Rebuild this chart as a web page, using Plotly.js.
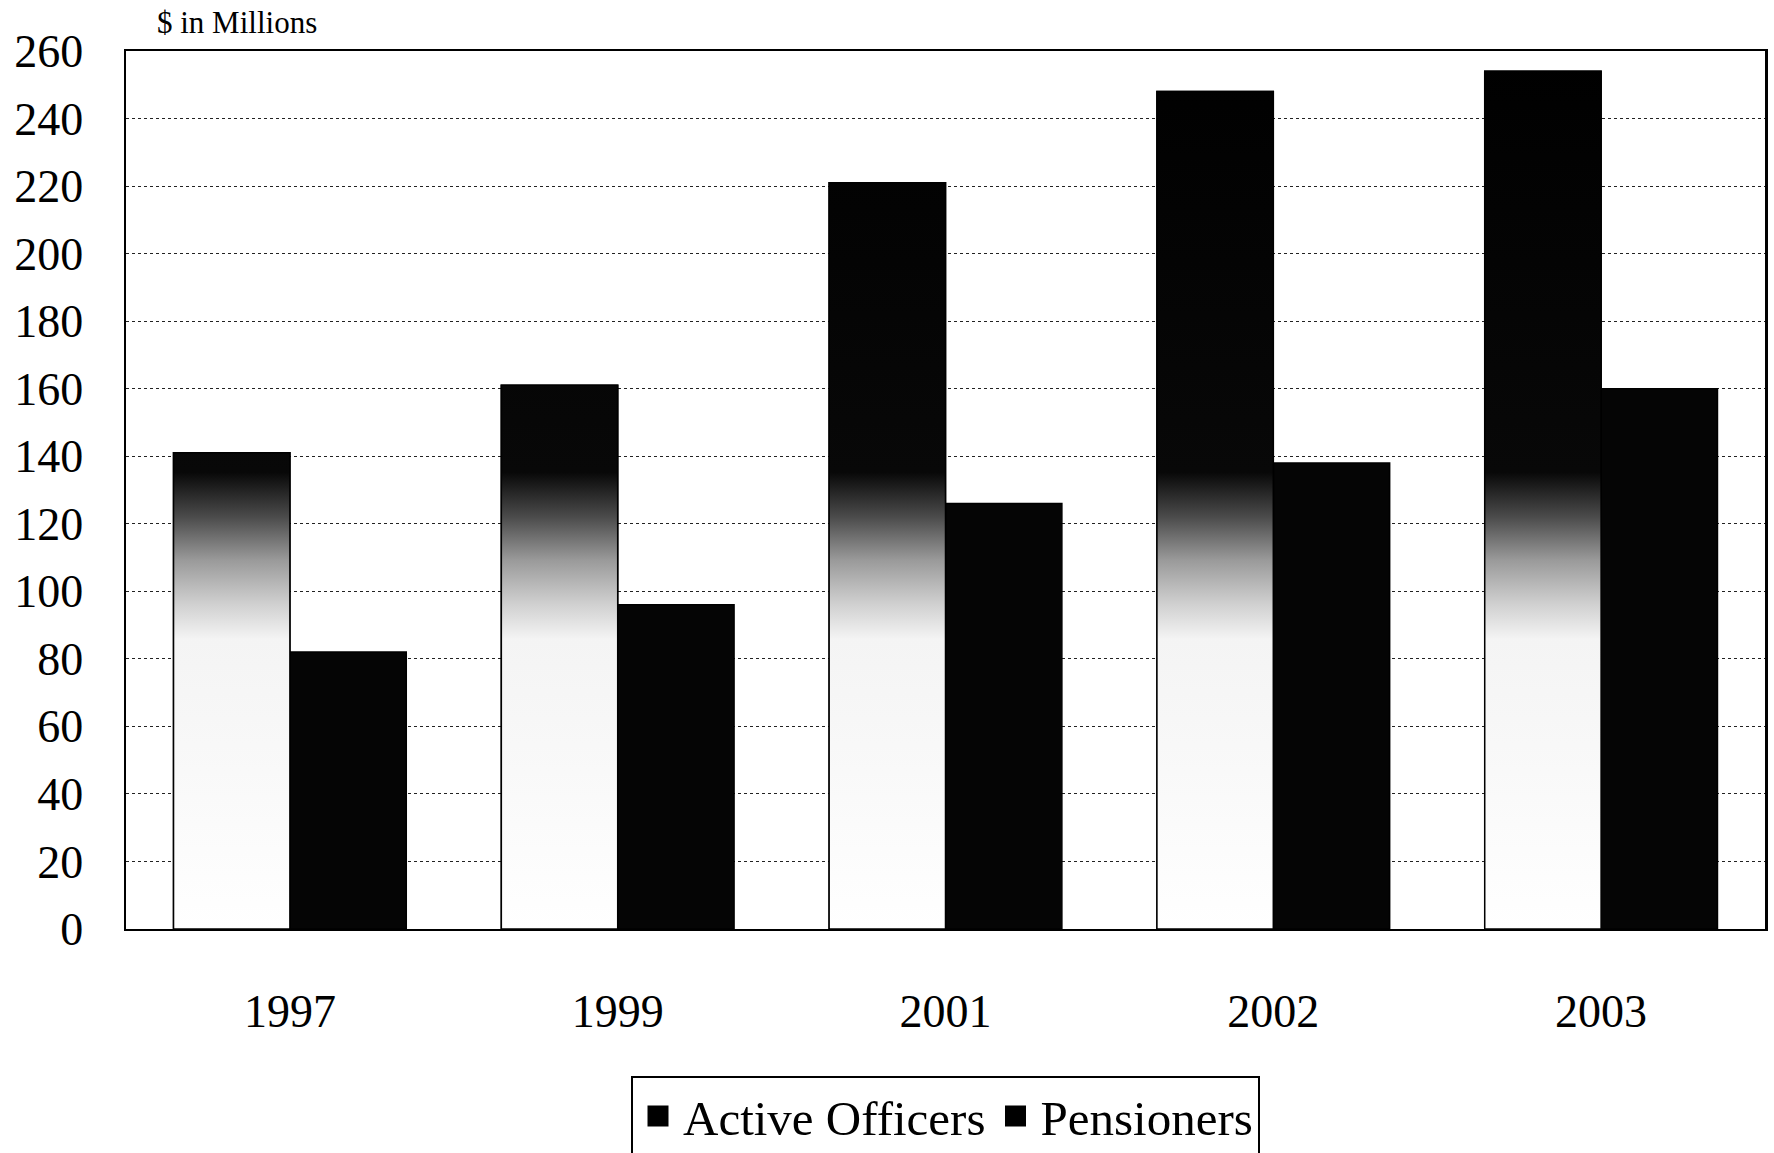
<!DOCTYPE html>
<html>
<head>
<meta charset="utf-8">
<script src="https://cdn.plot.ly/plotly-3.0.1.min.js"></script>
<style>
  html, body { margin: 0; padding: 0; background: #ffffff; }
  #chart { width: 1774px; height: 1153px; }
</style>
</head>
<body>
<div id="chart"></div>
<script>
// ---- data ----
const years = ['1997', '1999', '2001', '2002', '2003'];
const activeOfficers = [141, 161, 221, 248, 254];
const pensioners = [82, 96, 126, 138, 160];
const yTickVals = [0, 20, 40, 60, 80, 100, 120, 140, 160, 180, 200, 220, 240, 260];
const seriesNames = ['Active Officers', 'Pensioners'];
const unitLabel = '$ in Millions';

// ---- styling / layout constants ----
const FONT = '"Liberation Serif", "Times New Roman", serif';
const BAR_W = 0.355;              // width of each bar in category units
const xPos = years.map((_, i) => i);

// Gradient polygons for the Active Officers bars (built from data + bar geometry)
const gx = [], gy = [];
activeOfficers.forEach((v, i) => {
  const x0 = xPos[i] - BAR_W, x1 = xPos[i];
  gx.push(x0, x0, x1, x1, x0, null);
  gy.push(0, v, v, 0, 0, null);
});

const traces = [
  {
    type: 'bar', name: seriesNames[0], x: xPos, y: activeOfficers,
    offset: -BAR_W, width: BAR_W,
    marker: { color: '#000000', line: { color: '#000000', width: 1.5 } },
    showlegend: false, hoverinfo: 'y+name'
  },
  {
    type: 'bar', name: seriesNames[1], x: xPos, y: pensioners,
    offset: 0, width: BAR_W,
    marker: { color: '#050505', line: { color: '#000000', width: 1.5 } },
    showlegend: false, hoverinfo: 'y+name'
  },
  {
    type: 'scatter', mode: 'lines', x: gx, y: gy, fill: 'toself',
    connectgaps: false,
    line: { color: '#000000', width: 1.5 },
    fillcolor: '#888888',
    fillgradient: {
      type: 'vertical', start: 0, stop: 260,
      colorscale: [
        [0.0, '#ffffff'],
        [0.33, '#f4f4f4'],
        [0.37, '#d0d0d0'],
        [0.42, '#9a9a9a'],
        [0.47, '#4a4a4a'],
        [0.52, '#080808'],
        [1.0, '#000000']
      ]
    },
    showlegend: false, hoverinfo: 'skip'
  },
  // legend entries
  {
    type: 'scatter', mode: 'markers', name: seriesNames[0], x: [null], y: [null],
    marker: { symbol: 'square', size: 16, color: '#000000', line: { color: '#000000', width: 5 } }
  },
  {
    type: 'scatter', mode: 'markers', name: seriesNames[1], x: [null], y: [null],
    marker: { symbol: 'square', size: 16, color: '#000000', line: { color: '#000000', width: 5 } }
  }
];

const layout = {
  width: 1774, height: 1153,
  paper_bgcolor: '#ffffff', plot_bgcolor: '#ffffff',
  margin: { l: 126, r: 9, t: 51, b: 224, pad: 0, autoexpand: false },
  font: { family: FONT, color: '#000000', size: 46 },
  barmode: 'overlay',
  showlegend: true,
  xaxis: {
    type: 'linear', range: [-0.5, years.length - 0.5],
    tickmode: 'array', tickvals: xPos, ticktext: years,
    tickfont: { family: FONT, size: 46, color: '#000000' },
    ticks: '', ticklabelstandoff: 41,
    showgrid: false, zeroline: false,
    showline: true, mirror: true, linecolor: '#000000', linewidth: 2
  },
  yaxis: {
    range: [0, 260],
    tickmode: 'array', tickvals: yTickVals,
    tickfont: { family: FONT, size: 46, color: '#000000' },
    ticks: '', ticklabelstandoff: 31,
    showgrid: true, gridcolor: '#222222', gridwidth: 1, griddash: 'dot',
    zeroline: false,
    showline: true, mirror: true, linecolor: '#000000', linewidth: 2.5
  },
  legend: {
    orientation: 'h', x: 0.5, xanchor: 'center', y: -0.167, yanchor: 'top',
    font: { family: FONT, size: 49, color: '#000000' },
    bordercolor: '#000000', borderwidth: 2, bgcolor: '#ffffff',
    itemsizing: 'trace', itemwidth: 40, tracegroupgap: 0
  },
  annotations: [{
    text: unitLabel, xref: 'paper', yref: 'paper', x: 0.0177, y: 1,
    xanchor: 'left', yanchor: 'middle', yshift: 29, showarrow: false,
    font: { family: FONT, size: 31, color: '#000000' }
  }]
};

Plotly.newPlot('chart', traces, layout, { displayModeBar: false, staticPlot: true });
</script>
</body>
</html>
